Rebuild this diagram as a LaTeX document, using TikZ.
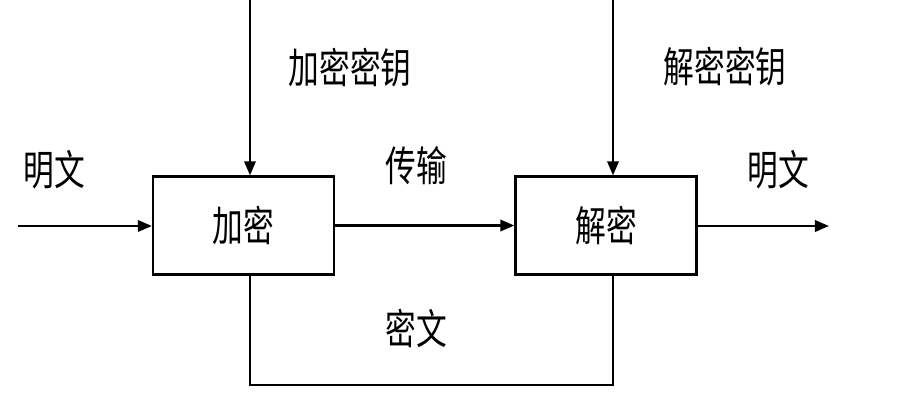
\documentclass[tikz,border=0pt]{standalone}
\usepackage{fontspec}
\newfontfamily\cjk{Noto Sans CJK SC}
\usetikzlibrary{arrows.meta}
\newcommand{\tallcn}[1]{\scalebox{1}[1.35]{#1}}
\begin{document}
\begin{tikzpicture}[x=0.02cm, y=-0.02cm,
    lbl/.style={font=\cjk\fontsize{17.5}{20}\selectfont, inner sep=0pt},
    box/.style={lbl, draw, line width=1.3pt, minimum width=3.62cm, minimum height=1.96cm},
    wire/.style={line width=1.3pt},
    flow/.style={wire, -{Triangle[length=8pt,width=6.5pt]}}]
    \useasboundingbox (0,0) rectangle (898,401);

    % Boxes
    \node[box] (enc) at (243.5,225.5) {\tallcn{加密}};
    \node[box] (dec) at (606,225.5) {\tallcn{解密}};

    % Free ends
    \coordinate (ekey) at (250,0);
    \coordinate (dkey) at (613,0);
    \coordinate (in) at (18,226);
    \coordinate (out) at (829,226);
    \coordinate (cl) at (250,385);
    \coordinate (cr) at (613,385);

    % Keys
    \draw[flow] (ekey) -- (ekey |- enc.north);
    \draw[flow] (dkey) -- (dkey |- dec.north);
    \node[lbl] (ekeytxt) at (350,68) {\tallcn{加密密钥}};
    \node[lbl] (dkeytxt) at (725,67) {\tallcn{解密密钥}};

    % Plaintext in and out
    \draw[flow] (in) -- (enc.west |- in);
    \draw[flow] (dec.east |- out) -- (out);
    \node[lbl] (ptin) at (54,170) {\tallcn{明文}};
    \node[lbl] (ptout) at (778,170) {\tallcn{明文}};

    % Transmission
    \draw[flow] (enc) -- (dec);
    \node[lbl] (tx) at (416,166) {\tallcn{传输}};

    % Ciphertext loop
    \draw[wire] (enc.south -| cl) -- (cl) -- (cr) -- (dec.south -| cr);
    \node[lbl] (ct) at (416,328) {\tallcn{密文}};
\end{tikzpicture}
\end{document}
